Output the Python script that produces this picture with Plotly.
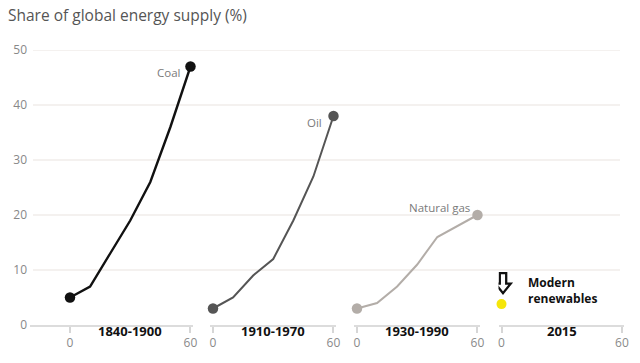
import plotly.graph_objects as go

# ---- data ----
years = [0, 10, 20, 30, 40, 50, 60]
coal = [5, 7, 13, 19, 26, 36, 47]
oil = [3, 5, 9, 12, 19, 27, 38]
gas = [3, 4, 7, 11, 16, 18, 20]
renew_years = [0]
renew = [3.8]
periods = ["1840-1900", "1910-1970", "1930-1990", "2015"]
series_names = ["Coal", "Oil", "Natural gas"]
x_ticks = [0, 60]
y_ticks = [0, 10, 20, 30, 40, 50]
grid_ticks = [10, 20, 30, 40, 50]

# ---- layout geometry (pixels) ----
W, H = 640, 363
L, R, T, B = 30, 16, 50, 38
Wp = W - L - R
zero_px = [70, 213, 357, 501.5]
ppu = 2.008
lpad = [40, 3, 3, 3]
rpad = [2.5, 2.5, 2.5, 2]

FONT = "Open Sans"
colors = ["#111111", "#555555", "#b3ada8"]
renew_color = "#f5e60a"
grid_color = "#e9e3df"

fig = go.Figure()

all_series = [coal, oil, gas]
for i, vals in enumerate(all_series):
    n = len(vals)
    sizes = [10.5] + [0] * (n - 2) + [10.5]
    fig.add_trace(go.Scatter(
        x=years, y=vals, mode="lines+markers", cliponaxis=False,
        line=dict(color=colors[i], width=2.4 if i == 0 else 2),
        marker=dict(color=colors[i], size=sizes, opacity=1,
                    line=dict(width=0)),
        xaxis="x%d" % (i + 1), yaxis="y", showlegend=False,
        hoverinfo="skip"))

fig.add_trace(go.Scatter(
    x=renew_years, y=renew, mode="markers", cliponaxis=False,
    marker=dict(color=renew_color, size=10, line=dict(width=0)),
    xaxis="x4", yaxis="y", showlegend=False, hoverinfo="skip"))

layout = dict(
    width=W, height=H,
    margin=dict(l=L, r=R, t=T, b=B),
    paper_bgcolor="white", plot_bgcolor="rgba(0,0,0,0)",
    font=dict(family=FONT, color="#888888", size=12),
    title=dict(text="Share of global energy supply (%)",
               x=8 / W, xanchor="left", xref="container",
               y=1 - 16 / H, yanchor="middle", yref="container",
               font=dict(family=FONT, size=15.5, color="#555555")),
    yaxis=dict(range=[0, 50], tickvals=y_ticks, showgrid=False,
               zeroline=False, ticks="", anchor="free", position=0,
               side="left", ticklabelstandoff=3, fixedrange=True,
               tickfont=dict(size=12, color="#888888")),
)

annotations = []
for i in range(4):
    x0 = zero_px[i] - lpad[i]
    x1 = zero_px[i] + 60 * ppu + rpad[i]
    ax = dict(
        domain=[max(0, (x0 - L) / Wp), min(1, (x1 - L) / Wp)],
        range=[-lpad[i] / ppu, 60 + rpad[i] / ppu],
        anchor="y", tickvals=x_ticks, ticks="outside", ticklen=6,
        tickwidth=1.5, tickcolor="#d6d6d6", showline=True,
        linecolor="#dcdcdc", linewidth=2, showgrid=False, zeroline=False,
        fixedrange=True, tickfont=dict(size=12, color="#8a8a8a"))
    layout["xaxis" if i == 0 else "xaxis%d" % (i + 1)] = ax
    annotations.append(dict(
        xref="x" if i == 0 else "x%d" % (i + 1), x=30,
        yref="paper", y=0, yshift=-17,
        text="<b>%s</b>" % periods[i], showarrow=False,
        font=dict(size=13, color="#111111", family=FONT)))

# series labels next to end points
label_shift = [(-8, -6), (-9, -6), (-5, 8)]
for i, vals in enumerate(all_series):
    annotations.append(dict(
        xref="x" if i == 0 else "x%d" % (i + 1), yref="y",
        x=years[-1], y=vals[-1],
        xanchor="right", yanchor="middle",
        xshift=label_shift[i][0], yshift=label_shift[i][1],
        text=series_names[i], showarrow=False,
        font=dict(size=11.5, color="#7a7a7a", family=FONT)))

# modern renewables label
annotations.append(dict(
    xref="x4", yref="y", x=renew_years[0], y=renew[0],
    xanchor="left", yanchor="middle", xshift=24, yshift=14,
    text="<b>Modern<br>renewables</b>", align="left", showarrow=False,
    font=dict(size=12, color="#111111", family=FONT)))

layout["annotations"] = annotations

shapes = []
# horizontal gridlines spanning all panels
for v in grid_ticks:
    shapes.append(dict(type="line", xref="paper", yref="y",
                       x0=3 / Wp, x1=590 / Wp, y0=v, y1=v,
                       line=dict(color=grid_color, width=1.2),
                       layer="below"))
# hollow down-arrow pointer above the renewables dot (pixel offsets)
shapes.append(dict(
    type="path", xref="x4", yref="y",
    xsizemode="pixel", ysizemode="pixel",
    xanchor=renew_years[0], yanchor=renew[0],
    path="M -1.7,31 L 4.7,31 L 4.7,20.5 L 9.2,20.5 L 1.5,11 "
         "L -6.2,20.5 L -1.7,20.5 Z",
    line=dict(color="#111111", width=2.3), fillcolor="white",
    layer="above"))
layout["shapes"] = shapes

fig.update_layout(**layout)
fig.write_html("out.html", config={"displayModeBar": False},
               post_script="document.body.style.margin='0px';")
